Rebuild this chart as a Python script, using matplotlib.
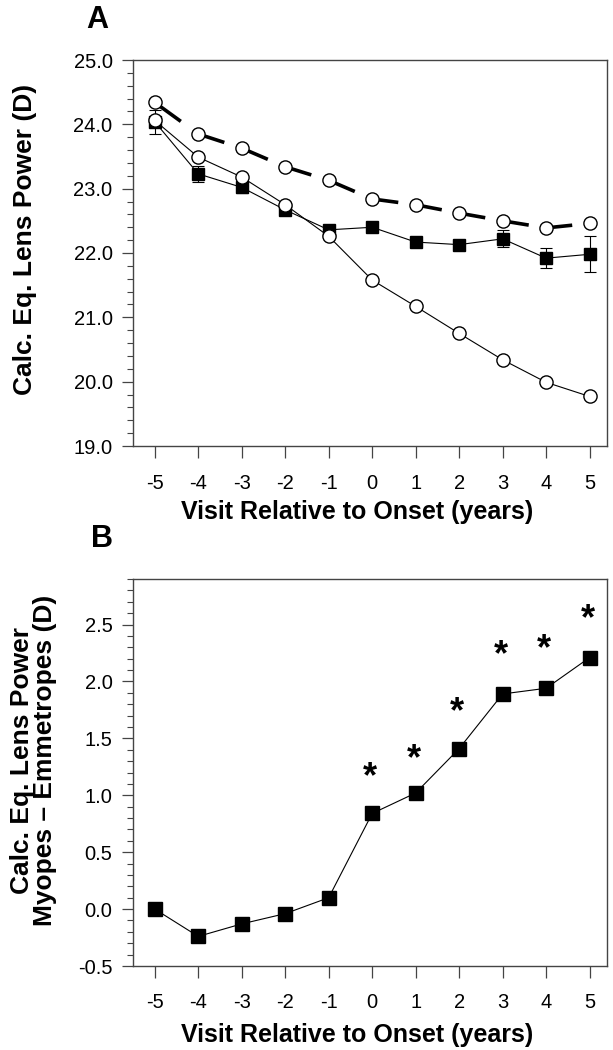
import matplotlib
matplotlib.use("Agg")
import matplotlib.pyplot as plt
from matplotlib.ticker import MultipleLocator, FormatStrFormatter

plt.rcParams['font.family'] = ['Liberation Sans', 'DejaVu Sans']
plt.rcParams['axes.unicode_minus'] = False

visit = [-5, -4, -3, -2, -1, 0, 1, 2, 3, 4, 5]

# Panel A - calculated equivalent lens power (D)
myope_power = [24.04, 23.23, 23.02, 22.67, 22.36, 22.40, 22.17, 22.13, 22.22, 21.92, 21.98]
myope_err = [0.19, 0.13, 0.08, 0.06, 0.04, 0.04, 0.04, 0.04, 0.13, 0.15, 0.28]
emmetrope_power = [24.06, 23.49, 23.18, 22.75, 22.26, 21.58, 21.17, 20.75, 20.34, 19.99, 19.77]
dashed_power = [24.34, 23.85, 23.63, 23.34, 23.13, 22.84, 22.75, 22.62, 22.50, 22.39, 22.46]

# Panel B - myopes minus emmetropes (D)
diff_power = [0.00, -0.24, -0.13, -0.04, 0.10, 0.84, 1.02, 1.41, 1.89, 1.94, 2.21]
star_visits = [0, 1, 2, 3, 4, 5]
star_height = [1.25, 1.41, 1.82, 2.32, 2.37, 2.64]

spine_col = '#444444'

fig = plt.figure(figsize=(6.13, 10.5), dpi=100)
axA = fig.add_axes([133 / 613, 1 - 446 / 1050, (607 - 133) / 613, (446 - 60) / 1050])
axB = fig.add_axes([133 / 613, 1 - 966 / 1050, (607 - 133) / 613, (966 - 579) / 1050])


def style_axes(ax, major, minor, fmt, xlab_y, xpad):
    ax.set_xlim(-5.5, 5.4)
    ax.xaxis.set_major_locator(MultipleLocator(1))
    ax.yaxis.set_major_locator(MultipleLocator(major))
    ax.yaxis.set_minor_locator(MultipleLocator(minor))
    ax.yaxis.set_major_formatter(FormatStrFormatter(fmt))
    for s in ax.spines.values():
        s.set_color(spine_col)
        s.set_linewidth(1.0)
    ax.tick_params(axis='y', which='major', direction='out', length=7.7, width=0.9,
                   color=spine_col, labelsize=14.5, pad=7)
    ax.tick_params(axis='y', which='minor', direction='out', length=4, width=0.8, color=spine_col)
    ax.tick_params(axis='x', which='major', direction='out', length=8.5, width=0.9,
                   color=spine_col, labelsize=14.5, pad=xpad)
    ax.set_xlabel("Visit Relative to Onset (years)", fontsize=18, fontweight='bold')
    ax.xaxis.set_label_coords(0.472, xlab_y)


# ---- Panel A
style_axes(axA, 1.0, 0.2, '%.1f', -0.141, 11.5)
axA.set_ylim(19.0, 25.0)

axA.errorbar(visit, myope_power, yerr=myope_err, fmt='none', ecolor='black',
             elinewidth=0.8, capsize=4, capthick=0.8, zorder=2)
axA.plot(visit, myope_power, '-s', color='black', lw=0.8, ms=8.6, zorder=3)
axA.plot(visit, emmetrope_power, '-o', color='black', lw=0.8, ms=9.5,
         mfc='white', mec='black', mew=1.0, zorder=4)

# dashed series: one dash leaving each point toward the next
for i in range(len(visit) - 1):
    x0, x1 = visit[i], visit[i + 1]
    y0, y1 = dashed_power[i], dashed_power[i + 1]
    axA.plot([x0, x0 + 0.6 * (x1 - x0)], [y0, y0 + 0.6 * (y1 - y0)],
             color='black', lw=2.6, solid_capstyle='butt', zorder=4)
axA.plot(visit, dashed_power, 'o', ms=9.5, mfc='white', mec='black', mew=1.0, zorder=5)

axA.set_ylabel("Calc. Eq. Lens Power (D)", fontsize=19, fontweight='bold')
axA.yaxis.set_label_coords(-0.203, 0.534)

# ---- Panel B
style_axes(axB, 0.5, 0.1, '%.1f', -0.148, 11)
axB.set_ylim(-0.5, 2.9)

axB.plot(visit, diff_power, '-s', color='black', lw=0.8, ms=9.5, zorder=3)
for xs, ys in zip(star_visits, star_height):
    # asterisk glyph sits high in its box, so anchor on the baseline and shift down
    axB.annotate('*', (xs, ys), xytext=(-1.5, -14.5), textcoords='offset points',
                 ha='center', va='baseline', fontsize=26, fontweight='bold')

axB.set_ylabel("Calc. Eq. Lens Power\nMyopes \u2013 Emmetropes (D)", fontsize=19,
               fontweight='bold', linespacing=0.95)
axB.yaxis.set_label_coords(-0.160, 0.532)

fig.text(97 / 613, 1 - 28 / 1050, 'A', ha='center', va='baseline', fontsize=22, fontweight='bold')
fig.text(102 / 613, 1 - 539 / 1050, 'B', ha='center', va='center', fontsize=22, fontweight='bold')

fig.savefig('out.png', dpi=100)
